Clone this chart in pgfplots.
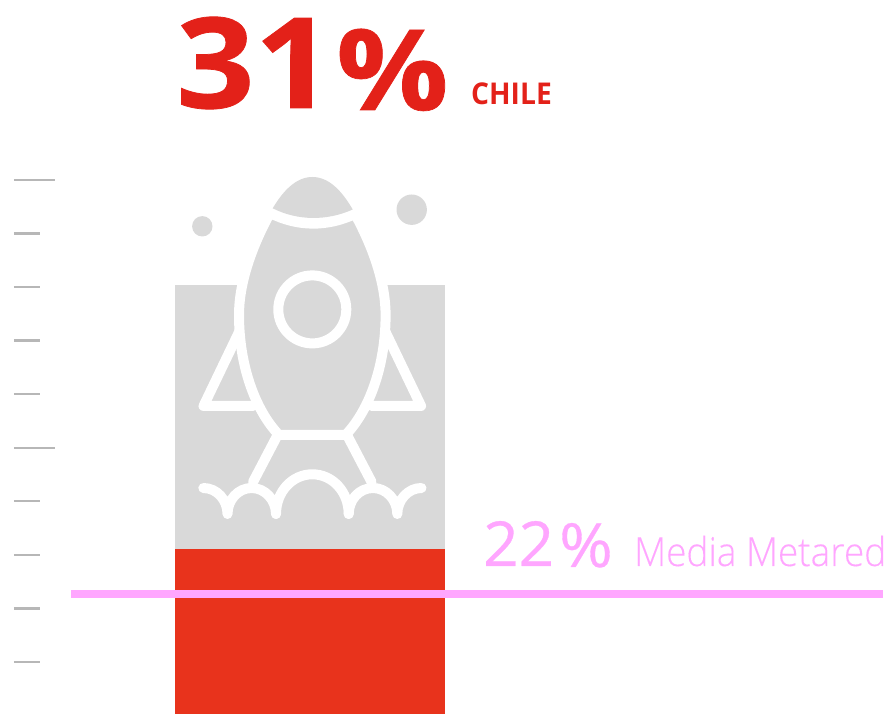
\documentclass[border=0pt]{standalone}
\usepackage{pgfplots}
\pgfplotsset{compat=1.18}
\usepackage{fontspec}
\setmainfont{Open Sans}
\newfontfamily\lightfont[FakeBold=0.25]{Open Sans Light}
\newfontfamily\heavyfont[FakeBold=0.6]{Open Sans Bold}
\newfontfamily\midfont[FakeBold=0.5]{Open Sans}
\definecolor{grayblock}{HTML}{D9D9D9}
\definecolor{redbar}{HTML}{E8331C}
\definecolor{redtext}{HTML}{E32119}
\definecolor{pinkavg}{HTML}{FFA6FF}
\definecolor{tickgray}{HTML}{B7B7B7}
\begin{document}
\begin{tikzpicture}[x=1pt,y=1pt]
\path (0,0) rectangle (890,714);
\begin{axis}[
  at={(14pt,0pt)}, anchor=south west,
  scale only axis, width=876pt, height=714pt,
  xmin=14, xmax=890, ymin=0.28, ymax=133.6,
  axis line style={draw=none},
  xtick=\empty,
  ytick={50,100}, minor ytick={10,20,30,40,60,70,80,90},
  yticklabels={},
  ytick pos=left, tick align=inside,
  major tick length=41pt, minor tick length=26pt,
  every tick/.style={draw=tickgray, line width=2.4pt},
  minor tick style={draw=tickgray, line width=2.4pt},
  major tick style={draw=tickgray, line width=2.4pt},
]
\addplot[ybar, bar width=270pt, bar shift=0pt, fill=grayblock, draw=none] coordinates {(310,80.4)};
\addplot[ybar, bar width=270pt, bar shift=0pt, fill=redbar, draw=none] coordinates {(310,31)};
\addplot[pinkavg, line width=8pt, sharp plot, no marks, line cap=butt] coordinates {(71,22.6) (883,22.6)};
\end{axis}
\begin{scope}[x=1pt,y=-1pt,yshift=714pt]
  % rocket icon
  \fill[grayblock] (202.3,226.3) circle[radius=10.2pt];
  \fill[grayblock] (411.7,209.7) circle[radius=15.2pt];
  \begin{scope}[draw=white, line width=10pt, line cap=round, line join=round]
    \draw (240,330) -- (203.5,406) -- (253,406);
    \draw (384.6,330) -- (421.1,406) -- (371.6,406);
    \draw (276.7,436.7) -- (253,482);
    \draw (347.9,436.7) -- (371.6,482);
    \draw (203.3,488) .. controls (217,488) and (227.5,500) .. (227.5,514)
          .. controls (227.5,500) and (238,488) .. (251.7,488)
          .. controls (265,488) and (276,500) .. (276,514);
    \draw (276,514) .. controls (276,492) and (292,474.3) .. (312.3,474.3)
          .. controls (332.6,474.3) and (348.7,492) .. (348.7,514);
    \draw (348.7,514) .. controls (348.7,500) and (359,488) .. (373,488)
          .. controls (386.5,488) and (397.3,500) .. (397.3,514)
          .. controls (397.3,500) and (408,488) .. (421.5,488);
    \filldraw[fill=grayblock, line cap=butt]
      (270,213) .. controls (250,250) and (239,285) .. (239,315)
      .. controls (239,365) and (255,410) .. (279,435)
      -- (345.6,435)
      .. controls (369.6,410) and (385.6,365) .. (385.6,315)
      .. controls (385.6,285) and (374.6,250) .. (355,214)
      .. controls (327,227) and (298,227) .. (270,213) -- cycle;
    \draw (312.3,309.4) circle[radius=34pt];
  \end{scope}
  \fill[grayblock] (312.3,177) .. controls (296,177) and (283,191) .. (272.7,208.3)
     .. controls (298,221) and (327,221) .. (352.7,209.5)
     .. controls (342,191) and (329,177) .. (312.3,177) -- cycle;
  % labels
  \node[anchor=base west, inner sep=0pt, text=redtext, font=\fontsize{126}{126}\selectfont\heavyfont] at (176,108) {\scalebox{1.09}[1]{31}};
  \node[anchor=base west, inner sep=0pt, text=redtext, font=\fontsize{126}{126}\selectfont\heavyfont] at (336,110) {\scalebox{0.99}[0.89]{\%}};
  \node[anchor=base west, inner sep=0pt, text=redtext, font=\fontsize{30}{30}\selectfont\bfseries] at (471,105) {\scalebox{0.94}[1]{CHILE}};
  \node[anchor=base west, inner sep=0pt, text=pinkavg, font=\fontsize{62}{62}\selectfont\midfont] at (483,566) {22};
  \node[anchor=base west, inner sep=0pt, text=pinkavg, font=\fontsize{62}{62}\selectfont\midfont] at (559,567) {\scalebox{1.05}[0.98]{\%}};
  \node[anchor=base west, inner sep=0pt, text=pinkavg, font=\fontsize{40}{40}\selectfont\lightfont] at (634,566) {\scalebox{0.925}[1]{Media Metared}};
\end{scope}
\end{tikzpicture}
\end{document}
